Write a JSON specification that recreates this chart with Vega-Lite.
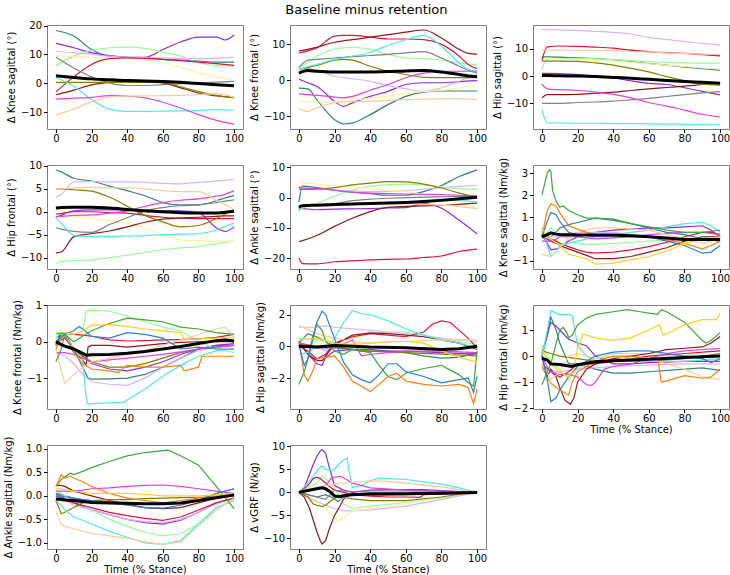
{
"$schema":"https://vega.github.io/schema/vega-lite/v6.json",
"padding":{"left":2,"top":4,"right":0,"bottom":0},
"title":{"text":"Baseline minus retention","fontSize":13,"fontWeight":"normal","font":"DejaVu Sans","color":"#000","offset":3,"anchor":"middle"},
"bounds":"flush",
"columns":3,
"spacing":{"row":36,"column":47},
"data":{"values":[
{"p":"a","t":0,"A":18.3,"B":13.8,"C":6.1,"D":11.0,"E":9.5,"F":-3.0,"G":9.0,"H":-4.0,"I":0.3,"J":2.0,"K":-5.5,"L":-11.0,"Z":2.6},
{"p":"a","t":10,"A":16.4,"B":12.3,"C":9.4,"D":10.6,"E":9.3,"F":2.2,"G":5.3,"H":-2.4,"I":0.3,"J":-1.0,"K":-5.2,"L":-9.0,"Z":2.0},
{"p":"a","t":20,"A":11.7,"B":10.6,"C":11.4,"D":10.0,"E":9.0,"F":6.5,"G":2.2,"H":-0.6,"I":0.3,"J":-5.7,"K":-4.9,"L":-6.4,"Z":1.5},
{"p":"a","t":30,"A":9.4,"B":9.6,"C":12.3,"D":9.4,"E":8.9,"F":8.5,"G":0.1,"H":0.3,"I":0.3,"J":-9.0,"K":-4.3,"L":-4.8,"Z":1.2},
{"p":"a","t":40,"A":9.0,"B":9.0,"C":12.5,"D":9.0,"E":8.8,"F":8.8,"G":-0.8,"H":0.6,"I":0.3,"J":-9.8,"K":-4.5,"L":-4.5,"Z":0.9},
{"p":"a","t":50,"A":8.8,"B":9.0,"C":12.1,"D":8.9,"E":8.3,"F":8.6,"G":-0.8,"H":0.5,"I":0.3,"J":-9.8,"K":-5.1,"L":-4.4,"Z":0.8},
{"p":"a","t":60,"A":8.3,"B":11.7,"C":10.8,"D":8.8,"E":7.1,"F":8.3,"G":-0.5,"H":0.1,"I":0.2,"J":-9.7,"K":-6.6,"L":-4.3,"Z":0.6},
{"p":"a","t":70,"A":8.0,"B":14.3,"C":9.4,"D":8.6,"E":5.5,"F":7.8,"G":-0.2,"H":-1.6,"I":-1.3,"J":-9.6,"K":-8.6,"L":-4.2,"Z":0.3},
{"p":"a","t":80,"A":7.7,"B":16.0,"C":7.1,"D":8.5,"E":3.6,"F":7.3,"G":0.1,"H":-3.4,"I":-2.9,"J":-9.5,"K":-10.9,"L":-4.0,"Z":-0.1},
{"p":"a","t":90,"A":7.3,"B":16.0,"C":6.1,"D":8.7,"E":2.2,"F":6.8,"G":0.4,"H":-4.4,"I":-4.2,"J":-9.2,"K":-12.9,"L":-3.6,"Z":-0.5},
{"p":"a","t":95,"B":15.0},
{"p":"a","t":100,"A":7.3,"B":16.7,"C":5.9,"D":9.0,"E":1.0,"F":6.2,"G":0.6,"H":-4.9,"I":-5.1,"J":-9.4,"K":-14.2,"L":-4.9,"Z":-0.9},
{"p":"b","t":0,"H":8.2,"F":7.6,"J":3.0,"C":3.5,"G":3.5,"I":3.0,"D":3.0,"K":-3.8,"B":0.3,"A":-2.2,"E":-6.0,"L":-8.0,"Z":2.0},
{"p":"b","t":5,"H":8.6,"F":8.2,"J":3.8,"C":5.0,"G":5.6,"I":3.5,"D":3.3,"K":-4.0,"B":-0.7,"A":-2.4,"E":-6.0,"L":-8.7,"Z":2.7},
{"p":"b","t":10,"H":9.2,"F":9.0,"J":4.4,"C":6.7,"G":5.8,"I":4.1,"D":2.8,"K":-4.2,"B":-1.7,"A":-5.4,"E":-6.0,"L":-7.7,"Z":2.5},
{"p":"b","t":20,"H":10.6,"F":12.3,"J":5.8,"C":8.7,"G":6.2,"I":5.6,"D":1.1,"K":-4.7,"B":-5.9,"A":-11.0,"E":-6.0,"L":-6.3,"Z":2.3},
{"p":"b","t":25,"H":11.0,"F":12.5,"J":6.2,"C":9.0,"G":6.4,"I":5.8,"D":0.7,"K":-4.9,"B":-7.3,"A":-12.2,"E":-5.8,"L":-6.1,"Z":2.3},
{"p":"b","t":30,"H":11.3,"F":12.5,"J":6.7,"C":9.2,"G":6.6,"I":5.6,"D":0.4,"K":-4.5,"B":-6.3,"A":-11.9,"E":-5.6,"L":-6.0,"Z":2.3},
{"p":"b","t":40,"H":12.0,"F":12.0,"J":7.8,"C":8.6,"G":6.9,"I":3.9,"D":-0.3,"K":-2.8,"B":-4.5,"A":-9.6,"E":-5.0,"L":-5.9,"Z":2.3},
{"p":"b","t":50,"H":12.7,"F":11.5,"J":9.7,"C":7.2,"G":7.2,"I":2.5,"D":-1.5,"K":-1.2,"B":-3.1,"A":-6.8,"E":-4.4,"L":-5.6,"Z":2.4},
{"p":"b","t":60,"H":13.4,"F":11.5,"J":11.3,"C":6.2,"G":7.6,"I":1.6,"D":-2.4,"K":0.7,"B":-1.2,"A":-4.5,"E":-3.7,"L":-5.4,"Z":2.6},
{"p":"b","t":70,"H":14.0,"F":11.3,"J":12.5,"C":6.0,"G":8.0,"I":0.8,"D":-3.1,"K":2.0,"B":-0.7,"A":-3.3,"E":-3.2,"L":-5.3,"Z":2.7},
{"p":"b","t":80,"H":11.8,"F":10.0,"J":9.5,"C":5.6,"G":6.2,"I":0.7,"D":-2.1,"K":2.5,"B":-0.7,"A":-3.0,"E":-2.8,"L":-5.2,"Z":2.3},
{"p":"b","t":90,"H":8.6,"F":6.7,"J":4.8,"C":4.8,"G":3.9,"I":0.7,"D":-0.3,"K":2.5,"B":-0.4,"A":-3.0,"E":-2.2,"L":-5.2,"Z":1.6},
{"p":"b","t":95,"H":7.5,"F":4.4,"J":3.0,"C":4.5,"G":2.8,"I":0.7,"D":0.8,"K":2.5,"B":-0.2,"A":-3.0,"E":-1.8,"L":-5.3,"Z":1.2},
{"p":"b","t":100,"H":7.3,"F":3.2,"J":2.5,"C":4.4,"G":2.0,"I":0.7,"D":1.6,"K":2.5,"B":-0.1,"A":-3.0,"E":-1.5,"L":-5.4,"Z":1.0},
{"p":"c","t":0,"D":17.0,"F":5.7,"L":9.5,"A":7.0,"C":2.5,"I":5.5,"B":1.0,"H":-8.0,"G":-9.9,"K":-3.0,"J":-12.3,"E":6.5,"Z":0.2},
{"p":"c","t":3,"D":17.0,"F":10.7,"L":9.5,"A":7.0,"C":6.2,"I":5.5,"B":1.0,"H":-6.8,"G":-10.0,"K":-4.7,"J":-17.2,"E":6.5,"Z":0.2},
{"p":"c","t":10,"D":16.9,"F":11.0,"L":9.5,"A":6.9,"C":6.4,"I":5.5,"B":0.9,"H":-6.8,"G":-10.0,"K":-5.0,"J":-17.2,"E":6.3,"Z":0.1},
{"p":"c","t":20,"D":16.7,"F":10.9,"L":9.4,"A":6.7,"C":6.5,"I":5.4,"B":0.5,"H":-6.7,"G":-9.7,"K":-5.2,"J":-17.3,"E":6.0,"Z":0.0},
{"p":"c","t":30,"D":16.4,"F":10.6,"L":9.4,"A":6.4,"C":6.3,"I":4.8,"B":0.0,"H":-6.3,"G":-9.5,"K":-5.9,"J":-17.3,"E":5.8,"Z":-0.2},
{"p":"c","t":40,"D":16.0,"F":10.2,"L":9.3,"A":6.0,"C":6.0,"I":4.0,"B":-0.6,"H":-5.9,"G":-9.2,"K":-6.7,"J":-17.4,"E":5.5,"Z":-0.5},
{"p":"c","t":50,"D":15.4,"F":9.5,"L":9.0,"A":5.3,"C":5.6,"I":2.8,"B":-1.8,"H":-5.3,"G":-8.7,"K":-8.0,"J":-17.4,"E":5.0,"Z":-0.8},
{"p":"c","t":60,"D":14.2,"F":8.9,"L":8.8,"A":4.6,"C":5.3,"I":1.5,"B":-2.7,"H":-4.7,"G":-8.2,"K":-9.7,"J":-17.5,"E":4.5,"Z":-1.2},
{"p":"c","t":70,"D":13.4,"F":8.6,"L":8.5,"A":4.0,"C":5.0,"I":-0.2,"B":-3.1,"H":-4.2,"G":-7.5,"K":-11.0,"J":-17.6,"E":4.0,"Z":-1.6},
{"p":"c","t":80,"D":12.6,"F":8.3,"L":8.2,"A":3.3,"C":4.8,"I":-1.7,"B":-4.3,"H":-3.7,"G":-6.8,"K":-12.5,"J":-17.7,"E":3.5,"Z":-2.0},
{"p":"c","t":90,"D":12.0,"F":7.8,"L":8.0,"A":2.7,"C":4.7,"I":-3.0,"B":-5.6,"H":-3.1,"G":-6.2,"K":-14.0,"J":-17.8,"E":3.0,"Z":-2.3},
{"p":"c","t":100,"D":11.4,"F":7.4,"L":7.9,"A":2.2,"C":4.7,"I":-3.3,"B":-6.9,"H":-2.6,"G":-5.7,"K":-15.0,"J":-17.9,"E":2.5,"Z":-2.6},
{"p":"d","t":0,"A":9.1,"D":3.2,"L":5.0,"I":5.0,"K":-1.0,"G":-3.5,"B":-1.2,"F":-0.5,"H":-9.0,"J":-1.5,"E":0.7,"C":-11.3,"Z":0.8},
{"p":"d","t":3,"A":8.7,"D":3.8,"L":5.0,"I":5.0,"K":-1.0,"G":-3.8,"B":-0.8,"F":-0.4,"H":-8.8,"J":-2.5,"E":0.3,"C":-10.9,"Z":0.9},
{"p":"d","t":10,"A":7.3,"D":6.5,"L":5.2,"I":4.8,"K":-0.8,"G":-4.3,"B":0.2,"F":0.0,"H":-5.5,"J":-5.2,"E":-1.0,"C":-10.7,"Z":1.0},
{"p":"d","t":20,"A":6.7,"D":6.6,"L":5.3,"I":4.5,"K":-0.7,"G":-4.5,"B":0.4,"F":0.0,"H":-4.8,"J":-5.4,"E":-1.3,"C":-10.5,"Z":1.0},
{"p":"d","t":30,"A":5.6,"D":6.5,"L":5.2,"I":3.2,"K":-0.3,"G":-2.8,"B":0.4,"F":-0.2,"H":-4.2,"J":-5.4,"E":-2.0,"C":-10.0,"Z":0.8},
{"p":"d","t":40,"A":4.6,"D":6.5,"L":5.2,"I":1.2,"K":0.2,"G":-1.3,"B":0.4,"F":-0.3,"H":-3.3,"J":-5.3,"E":-2.5,"C":-9.5,"Z":0.5},
{"p":"d","t":50,"A":3.5,"D":6.4,"L":5.0,"I":-0.8,"K":1.2,"G":0.2,"B":0.3,"F":-0.8,"H":-2.3,"J":-5.2,"E":-3.5,"C":-8.9,"Z":0.2},
{"p":"d","t":60,"A":2.0,"D":6.2,"L":4.6,"I":-2.2,"K":2.0,"G":0.9,"B":0.2,"F":-1.2,"H":-1.6,"J":-5.0,"E":-5.0,"C":-8.3,"Z":0.0},
{"p":"d","t":70,"A":1.5,"D":6.1,"L":4.4,"I":-3.3,"K":2.5,"G":1.3,"B":0.2,"F":-1.4,"H":-1.4,"J":-4.9,"E":-6.2,"C":-7.9,"Z":-0.2},
{"p":"d","t":80,"A":1.5,"D":6.4,"L":4.4,"I":-3.0,"K":2.8,"G":1.5,"B":-0.2,"F":-1.5,"H":-1.2,"J":-4.8,"E":-6.3,"C":-7.6,"Z":-0.3},
{"p":"d","t":90,"A":2.4,"D":6.7,"L":2.5,"I":-1.5,"K":3.4,"G":2.0,"B":-3.5,"F":-1.5,"H":-1.0,"J":-4.0,"E":-6.4,"C":-7.0,"Z":-0.3},
{"p":"d","t":95,"A":3.0,"D":6.9,"L":1.5,"I":-0.5,"K":3.8,"G":2.3,"B":-4.3,"F":-1.5,"H":-0.9,"J":-3.2,"E":-6.4,"C":-6.7,"Z":-0.1},
{"p":"d","t":100,"A":3.5,"D":7.0,"L":0.5,"I":0.4,"K":4.6,"G":2.6,"B":-3.3,"F":-1.5,"H":-0.9,"J":-2.5,"E":-6.4,"C":-6.4,"Z":0.1},
{"p":"e","t":0,"A":-1.5,"I":3.0,"E":5.0,"D":3.5,"K":3.5,"C":-4.0,"G":-3.0,"J":-4.5,"L":-2.5,"B":-3.5,"H":-14.5,"F":-20.0,"Z":-3.2},
{"p":"e","t":2,"A":3.8,"I":2.7,"E":4.9,"D":3.3,"K":3.2,"C":-3.5,"G":-2.6,"J":-2.5,"L":-2.4,"B":-3.6,"H":-14.2,"F":-21.8,"Z":-2.7},
{"p":"e","t":10,"A":3.3,"I":2.8,"E":4.5,"D":3.0,"K":3.0,"C":-2.0,"G":-2.4,"J":-2.4,"L":-2.3,"B":-4.0,"H":-12.5,"F":-21.9,"Z":-2.5},
{"p":"e","t":20,"A":2.5,"I":3.3,"E":4.0,"D":2.5,"K":2.5,"C":0.5,"G":-2.0,"J":-2.2,"L":-2.2,"B":-3.8,"H":-9.5,"F":-21.2,"Z":-2.3},
{"p":"e","t":30,"A":1.8,"I":4.2,"E":3.5,"D":2.2,"K":1.8,"C":2.5,"G":-1.0,"J":-2.0,"L":-2.1,"B":-3.7,"H":-6.8,"F":-20.9,"Z":-2.1},
{"p":"e","t":40,"A":1.3,"I":4.8,"E":3.0,"D":2.0,"K":1.5,"C":3.8,"G":-0.5,"J":-1.8,"L":-2.0,"B":-3.6,"H":-4.6,"F":-20.6,"Z":-1.9},
{"p":"e","t":50,"A":0.8,"I":5.3,"E":2.5,"D":2.1,"K":1.3,"C":4.3,"G":-0.2,"J":-1.6,"L":-2.0,"B":-3.4,"H":-3.2,"F":-20.4,"Z":-1.8},
{"p":"e","t":60,"A":0.8,"I":5.2,"E":2.0,"D":2.3,"K":1.2,"C":4.5,"G":0.0,"J":-1.5,"L":-2.0,"B":-3.3,"H":-2.9,"F":-20.3,"Z":-1.6},
{"p":"e","t":70,"A":2.0,"I":4.5,"E":1.0,"D":2.8,"K":1.1,"C":4.2,"G":0.2,"J":-1.2,"L":-2.2,"B":-2.0,"H":-2.7,"F":-19.8,"Z":-1.3},
{"p":"e","t":80,"A":4.0,"I":3.2,"E":0.0,"D":3.3,"K":1.0,"C":3.5,"G":0.3,"J":-0.5,"L":-2.5,"B":-3.5,"H":-2.6,"F":-19.3,"Z":-0.9},
{"p":"e","t":90,"A":7.0,"I":1.5,"E":-1.5,"D":3.7,"K":0.8,"C":3.0,"G":0.4,"J":-0.8,"L":-3.0,"B":-7.5,"H":-2.2,"F":-17.8,"Z":-0.4},
{"p":"e","t":100,"A":9.2,"I":0.2,"E":-3.5,"D":4.1,"K":0.5,"C":2.8,"G":0.5,"J":-1.5,"L":-3.6,"B":-12.0,"H":-1.8,"F":-17.0,"Z":0.1},
{"p":"f","t":0,"M":2.0,"N":0.1,"O":0.1,"P":0.5,"H":0.1,"F":0.2,"A":0.1,"J":0.5,"B":0.2,"L":-0.7,"C":0.0,"K":-0.1,"D":0.2,"Z":0.1},
{"p":"f","t":3,"M":3.0,"N":1.3,"O":0.8,"P":0.1,"H":0.0,"F":0.1,"A":0.1,"J":-0.3,"B":-0.2,"L":-0.75,"C":0.3,"K":-0.1,"D":0.15,"Z":0.2},
{"p":"f","t":4,"M":3.15},
{"p":"f","t":5,"M":3.1,"N":1.6,"O":1.2,"P":0.0,"H":-0.1,"F":0.0,"A":0.1,"J":-0.8,"B":-0.5,"L":-0.8,"C":0.5,"K":-0.1,"D":0.1,"Z":0.28},
{"p":"f","t":6,"M":2.2},
{"p":"f","t":8,"M":1.7,"N":1.5,"O":1.1,"P":-0.2,"H":-0.2,"F":-0.1,"A":0.3,"J":-0.6,"B":-0.45,"L":-0.6,"C":0.3,"K":0.0,"D":0.1,"Z":0.22},
{"p":"f","t":10,"M":1.45,"N":1.2,"O":0.8,"P":-0.3,"H":-0.3,"F":-0.2,"A":0.5,"J":-0.3,"B":-0.4,"L":-0.4,"C":0.2,"K":0.1,"D":0.1,"Z":0.2},
{"p":"f","t":12,"M":1.5},
{"p":"f","t":15,"M":1.3,"N":0.6,"O":0.3,"P":-0.7,"H":-0.45,"F":-0.35,"A":0.65,"J":-0.2,"B":-0.1,"L":0.0,"C":0.0,"K":0.1,"D":0.2,"Z":0.19},
{"p":"f","t":20,"M":1.1,"N":0.45,"O":0.2,"P":-0.8,"H":-0.6,"F":-0.5,"A":0.75,"J":-0.1,"B":0.1,"L":0.3,"C":-0.2,"K":0.1,"D":0.3,"Z":0.18},
{"p":"f","t":25,"M":0.95,"N":0.3,"O":0.15,"P":-0.9,"H":-0.75,"F":-0.6,"A":0.85,"J":0.0,"B":0.2,"L":0.4,"C":-0.25,"K":0.05,"D":0.3,"Z":0.18},
{"p":"f","t":30,"M":0.95,"N":0.2,"O":0.1,"P":-1.15,"H":-0.9,"F":-0.65,"A":0.95,"J":0.1,"B":0.3,"L":0.5,"C":-0.25,"K":0.0,"D":0.3,"Z":0.18},
{"p":"f","t":40,"M":0.85,"N":0.2,"O":0.1,"P":-1.1,"H":-0.9,"F":-0.6,"A":0.9,"J":0.2,"B":0.4,"L":0.5,"C":-0.2,"K":0.05,"D":0.3,"Z":0.18},
{"p":"f","t":50,"M":0.7,"N":0.15,"O":0.1,"P":-0.95,"H":-0.8,"F":-0.5,"A":0.7,"J":0.3,"B":0.45,"L":0.45,"C":-0.15,"K":0.1,"D":0.2,"Z":0.14},
{"p":"f","t":60,"M":0.55,"N":0.1,"O":0.1,"P":-0.8,"H":-0.6,"F":-0.35,"A":0.5,"J":0.4,"B":0.5,"L":0.4,"C":-0.1,"K":0.2,"D":0.1,"Z":0.1},
{"p":"f","t":70,"M":0.4,"N":-0.05,"O":-0.1,"P":-0.55,"H":-0.4,"F":-0.15,"A":0.3,"J":0.55,"B":0.5,"L":0.2,"C":-0.05,"K":0.25,"D":0.0,"Z":0.04},
{"p":"f","t":80,"M":0.3,"N":-0.2,"O":-0.3,"P":-0.2,"H":-0.1,"F":0.1,"A":0.2,"J":0.7,"B":0.55,"L":0.0,"C":0.0,"K":0.3,"D":-0.1,"Z":-0.02},
{"p":"f","t":90,"M":0.3,"N":-0.45,"O":-0.65,"P":0.0,"H":0.1,"F":0.3,"A":0.0,"J":0.75,"B":0.6,"L":-0.2,"C":0.05,"K":0.3,"D":-0.05,"Z":-0.02},
{"p":"f","t":95,"M":0.35,"N":-0.3,"O":-0.6,"P":0.05,"H":0.1,"F":0.3,"A":-0.05,"J":0.6,"B":0.4,"L":-0.1,"C":0.1,"K":0.25,"D":0.0,"Z":-0.02},
{"p":"f","t":100,"M":0.4,"N":-0.1,"O":-0.3,"P":0.1,"H":0.1,"F":0.2,"A":-0.1,"J":0.3,"B":0.1,"L":0.1,"C":0.1,"K":0.2,"D":0.0,"Z":-0.02},
{"p":"g","t":0,"C":0.1,"M":-0.55,"P":0.25,"O":0.0,"F":0.2,"H":-0.1,"L":-0.2,"K":-0.3,"N":-0.2,"I":-0.1,"B":0.0,"A":0.1,"D":-0.3,"J":0.2,"Z":0.0},
{"p":"g","t":3,"C":0.15,"M":-0.2,"P":0.25,"O":0.15,"F":0.25,"H":0.25,"L":-0.8,"K":-0.3,"N":0.1,"I":0.1,"B":0.05,"A":0.2,"D":-0.35,"J":0.2,"Z":-0.08},
{"p":"g","t":5,"C":0.2,"M":0.2,"P":0.25,"O":0.2,"F":0.25,"H":0.2,"L":-1.15,"K":-0.3,"N":0.2,"I":0.2,"B":0.1,"A":0.25,"D":-0.4,"J":0.2,"Z":-0.12},
{"p":"g","t":10,"C":0.2,"M":0.0,"P":0.2,"O":0.3,"F":0.2,"H":-0.3,"L":-0.9,"K":-0.35,"N":-0.3,"I":-0.2,"B":-0.2,"A":-0.2,"D":-0.6,"J":-0.2,"Z":-0.2},
{"p":"g","t":13,"O":0.42},
{"p":"g","t":15,"C":0.3,"M":0.15,"P":0.3,"O":0.35,"F":0.18,"H":-0.5,"L":-0.7,"K":-0.45,"N":-0.6,"I":-0.4,"B":-0.4,"A":-0.7,"D":-0.9,"J":-0.5,"Z":-0.32},
{"p":"g","t":17,"C":0.85,"H":-0.65,"J":-1.55,"Z":-0.37},
{"p":"g","t":18,"H":-0.15,"A":-1.0,"J":-1.72},
{"p":"g","t":20,"C":0.87,"M":0.3,"P":0.45,"O":0.15,"F":0.15,"H":-0.1,"L":-0.55,"K":-0.55,"N":-0.75,"I":-0.55,"B":-0.6,"A":-1.03,"D":-1.1,"J":-1.7,"Z":-0.36},
{"p":"g","t":30,"C":0.84,"M":0.5,"P":0.47,"O":0.1,"F":0.05,"H":-0.1,"L":-0.45,"K":-0.5,"N":-0.8,"I":-0.7,"B":-0.75,"A":-1.02,"D":-1.17,"J":-1.68,"Z":-0.35},
{"p":"g","t":35,"N":-0.85},
{"p":"g","t":38,"J":-1.67},
{"p":"g","t":40,"C":0.7,"M":0.65,"P":0.42,"O":0.25,"F":0.02,"H":-0.15,"L":-0.35,"K":-0.45,"N":-0.65,"I":-0.7,"B":-0.8,"A":-1.0,"D":-1.2,"J":-1.6,"Z":-0.32},
{"p":"g","t":50,"C":0.55,"M":0.6,"P":0.35,"O":0.2,"F":0.03,"H":-0.1,"L":-0.25,"K":-0.4,"N":-0.7,"I":-0.6,"B":-0.7,"A":-0.9,"D":-1.0,"J":-1.3,"Z":-0.27},
{"p":"g","t":60,"C":0.4,"M":0.55,"P":0.3,"O":0.1,"F":0.05,"H":-0.05,"L":-0.1,"K":-0.35,"N":-0.7,"I":-0.45,"B":-0.55,"A":-0.7,"D":-0.7,"J":-0.95,"Z":-0.2},
{"p":"g","t":70,"C":0.3,"M":0.4,"P":0.25,"O":-0.2,"F":0.06,"H":-0.02,"L":0.05,"K":-0.28,"N":-0.65,"I":-0.3,"B":-0.35,"A":-0.45,"D":-0.45,"J":-0.65,"Z":-0.13},
{"p":"g","t":72,"P":0.05,"N":-0.8},
{"p":"g","t":80,"C":0.0,"M":0.35,"P":0.08,"O":-0.15,"F":0.08,"H":0.0,"L":0.2,"K":-0.2,"N":-0.7,"I":-0.2,"B":-0.2,"A":-0.2,"D":-0.25,"J":-0.4,"Z":-0.05},
{"p":"g","t":82,"N":-0.4},
{"p":"g","t":90,"C":-0.2,"M":0.25,"P":0.1,"O":-0.2,"F":0.12,"H":0.0,"L":0.35,"K":-0.15,"N":-0.4,"I":-0.15,"B":-0.1,"A":-0.1,"D":-0.15,"J":-0.25,"Z":0.03},
{"p":"g","t":95,"L":0.4,"Z":0.05},
{"p":"g","t":100,"C":-0.3,"M":0.2,"P":0.1,"O":-0.2,"F":0.2,"H":0.0,"L":0.1,"K":-0.1,"N":-0.4,"I":-0.1,"B":-0.05,"A":-0.1,"D":-0.1,"J":-0.2,"Z":0.02},
{"p":"h","t":0,"J":-0.5,"O":0.1,"M":-2.4,"N":0.3,"F":0.0,"H":0.3,"L":1.3,"D":1.2,"C":0.5,"P":0.4,"A":0.2,"K":0.2,"B":0.3,"I":0.2,"Z":0.0},
{"p":"h","t":3,"O":-1.2,"M":-1.6,"N":-1.8},
{"p":"h","t":5,"J":-0.4,"O":-0.8,"M":-0.8,"N":-2.2,"F":-0.3,"H":-0.5,"A":0.8,"B":-0.5},
{"p":"h","t":8,"O":0.5,"M":0.7,"N":-1.5},
{"p":"h","t":10,"J":0.0,"O":1.5,"M":1.4,"N":-0.8,"F":-0.8,"H":-0.9,"L":0.8,"D":1.2,"C":0.4,"P":0.5,"A":0.6,"K":-0.1,"B":-1.1,"I":0.0,"Z":-0.05},
{"p":"h","t":13,"O":2.2,"M":1.0,"H":-0.9,"B":-1.2},
{"p":"h","t":15,"J":-0.3,"O":2.0,"M":0.3,"N":-0.7,"F":-0.5,"H":-0.6,"D":1.3,"A":0.3,"B":-0.7},
{"p":"h","t":20,"J":0.5,"O":0.5,"M":-0.3,"N":-0.6,"F":0.2,"H":0.1,"L":0.5,"D":1.2,"C":0.2,"P":0.2,"A":0.0,"K":-0.1,"B":-0.3,"I":-0.1,"Z":0.05},
{"p":"h","t":25,"J":1.5,"O":-1.0,"M":-0.5,"N":-1.3},
{"p":"h","t":30,"J":2.25,"O":-1.8,"M":-0.2,"N":-2.2,"F":0.6,"H":0.7,"L":0.3,"D":1.1,"C":0.5,"P":0.1,"A":-0.2,"K":0.4,"B":-0.2,"Z":0.0},
{"p":"h","t":35,"J":2.05,"O":-2.1,"N":-2.5,"K":-0.6,"B":-0.3},
{"p":"h","t":40,"J":2.0,"O":-2.3,"M":-0.4,"N":-2.85,"F":0.8,"H":0.85,"L":0.2,"D":1.0,"C":0.8,"P":0.2,"A":-0.2,"K":-0.5,"B":-0.3,"I":-0.3,"Z":-0.05},
{"p":"h","t":45,"O":-1.8,"M":-1.2,"N":-2.4},
{"p":"h","t":50,"J":1.6,"O":-1.1,"M":-1.9,"N":-1.9,"F":0.7,"H":0.8,"D":0.9,"C":0.9,"P":0.3,"A":-0.3,"K":-0.4},
{"p":"h","t":55,"O":-1.1,"M":-2.1,"N":-1.7},
{"p":"h","t":60,"J":1.1,"O":-1.6,"M":-1.7,"N":-2.2,"F":0.6,"H":0.7,"L":0.3,"D":0.8,"C":0.9,"P":0.3,"A":-0.4,"K":-0.3,"B":-0.3,"I":-0.4,"Z":-0.1},
{"p":"h","t":70,"J":0.7,"O":-1.9,"M":-1.4,"N":-2.4,"F":0.9,"H":0.6,"D":0.6,"C":0.7,"P":0.2,"A":-0.6},
{"p":"h","t":75,"O":-2.1,"F":1.4},
{"p":"h","t":80,"J":0.4,"O":-2.3,"M":-1.2,"N":-2.5,"F":1.6,"H":0.4,"L":0.4,"D":0.5,"C":0.5,"P":-0.3,"A":-0.75,"K":-0.3,"B":-0.4,"I":-0.5,"Z":-0.2},
{"p":"h","t":85,"M":-1.5,"F":1.5},
{"p":"h","t":90,"J":0.2,"O":-2.1,"M":-1.8,"N":-2.4,"F":1.0,"H":0.2,"D":0.4,"C":0.3,"P":-0.7,"A":-0.7,"Z":-0.15},
{"p":"h","t":95,"O":-2.0,"M":-2.3,"N":-2.6,"F":0.5},
{"p":"h","t":98,"O":-2.9,"M":-2.5,"N":-3.6},
{"p":"h","t":100,"J":-0.1,"O":-1.9,"M":-0.3,"N":-2.7,"F":-0.1,"H":-0.2,"L":0.4,"D":0.3,"C":0.1,"P":-1.0,"A":-0.4,"K":-0.4,"B":-0.5,"I":-0.6,"Z":0.0},
{"p":"i","t":0,"M":-1.1,"P":0.2,"J":-0.1,"A":0.1,"B":0.0,"O":0.0,"H":0.0,"N":-0.4,"K":0.0,"L":-0.3,"C":0.4,"I":0.2,"F":-0.3,"D":-0.5,"Z":-0.08},
{"p":"i","t":3,"M":-0.6,"J":1.0,"A":0.8,"B":0.8,"O":-0.9,"H":-0.8,"N":-0.8,"K":-0.4,"Z":-0.15},
{"p":"i","t":5,"M":-0.3,"P":-0.3,"J":1.75,"A":1.5,"B":1.3,"O":-1.75,"H":-0.5,"N":-1.05,"K":-0.6,"L":-0.9,"C":-0.2,"I":0.1,"F":-0.6,"Z":-0.3},
{"p":"i","t":8,"M":0.5,"J":1.65,"A":1.0,"B":1.15,"O":-1.6,"H":-0.8},
{"p":"i","t":10,"M":1.0,"P":-0.6,"J":1.6,"A":0.5,"B":1.0,"O":-1.3,"H":-1.2,"N":-1.3,"K":-0.7,"L":-0.6,"C":-0.5,"I":0.0,"F":-0.8,"D":-0.6,"Z":-0.32},
{"p":"i","t":12,"M":1.1},
{"p":"i","t":13,"H":-1.7},
{"p":"i","t":14,"M":0.9},
{"p":"i","t":15,"M":0.7,"P":-0.8,"J":1.6,"A":-0.3,"B":0.65,"O":-0.8,"N":-1.5,"K":-0.7,"L":0.0,"C":-0.9,"F":-0.6,"Z":-0.38},
{"p":"i","t":16,"H":-1.85},
{"p":"i","t":17,"M":0.8,"J":1.55,"N":-1.0,"Z":-0.4},
{"p":"i","t":18,"P":-0.5,"H":-1.6},
{"p":"i","t":20,"M":1.2,"P":0.3,"J":0.4,"A":-0.3,"B":0.5,"O":-0.4,"H":-1.0,"N":-0.6,"K":-0.8,"L":0.1,"C":-0.5,"I":-0.1,"F":-0.3,"D":-0.5,"Z":-0.33},
{"p":"i","t":23,"P":0.85},
{"p":"i","t":25,"M":1.45,"J":0.0,"B":0.4,"H":-0.5,"K":-1.1},
{"p":"i","t":28,"K":-1.12},
{"p":"i","t":30,"M":1.6,"P":0.7,"J":-0.2,"A":-0.5,"B":0.0,"O":0.0,"H":-0.3,"N":-0.2,"K":-1.0,"L":-0.1,"C":-0.1,"I":-0.2,"F":-0.3,"Z":-0.22},
{"p":"i","t":35,"K":-0.5},
{"p":"i","t":40,"M":1.7,"P":0.6,"J":-0.2,"A":-0.65,"B":-0.3,"O":0.15,"H":-0.1,"N":0.0,"K":-0.4,"L":0.0,"C":0.1,"I":-0.2,"F":-0.2,"D":-0.4,"Z":-0.18},
{"p":"i","t":48,"M":1.78},
{"p":"i","t":50,"P":0.7,"A":-0.65,"B":-0.3,"O":0.2,"H":0.0,"N":0.0,"K":-0.3,"L":-0.1},
{"p":"i","t":55,"M":1.7},
{"p":"i","t":60,"M":1.65,"P":1.0,"J":-0.2,"A":-0.6,"B":-0.25,"O":0.2,"H":0.1,"N":-0.1,"K":-0.1,"L":-0.1,"C":0.1,"I":-0.2,"F":0.0,"D":-0.35,"Z":-0.12},
{"p":"i","t":65,"M":1.6,"O":0.15,"N":-0.1},
{"p":"i","t":66,"P":1.2},
{"p":"i","t":67,"M":1.78,"N":-1.0},
{"p":"i","t":68,"P":0.8},
{"p":"i","t":70,"M":1.7,"P":0.85,"H":0.25,"N":-0.95,"K":0.1,"L":-0.3},
{"p":"i","t":80,"M":1.3,"P":1.2,"J":-0.2,"A":-0.5,"B":-0.2,"O":0.0,"H":0.3,"N":-0.75,"K":0.2,"L":-0.5,"C":0.0,"I":-0.1,"F":0.1,"D":-0.3,"Z":-0.05},
{"p":"i","t":90,"M":0.6,"P":1.4,"A":-0.45,"O":-0.1,"H":0.35,"N":-0.85,"L":-0.8},
{"p":"i","t":92,"M":0.5},
{"p":"i","t":95,"M":0.6,"O":-0.25,"H":0.5,"N":-0.8},
{"p":"i","t":98,"P":1.4},
{"p":"i","t":100,"M":0.9,"P":1.65,"J":-0.1,"A":-0.55,"B":-0.2,"O":-0.1,"H":0.75,"N":-0.5,"K":0.3,"L":-0.9,"C":0.3,"I":0.1,"F":0.2,"D":-0.3,"Z":0.0},
{"p":"j","t":0,"M":0.2,"N":0.2,"K":0.1,"P":0.15,"H":0.22,"O":0.0,"A":0.05,"I":-0.1,"F":0.0,"B":0.05,"D":0.0,"C":0.1,"J":-0.1,"L":-0.35,"Z":-0.07},
{"p":"j","t":3,"M":0.35,"N":0.45,"K":0.1,"P":0.15,"H":0.22,"O":0.0,"A":0.03,"I":-0.38,"F":-0.05,"B":-0.02,"D":-0.06,"C":0.05,"J":-0.2,"L":-0.6,"Z":-0.08},
{"p":"j","t":5,"M":0.4,"N":0.38,"K":0.1,"P":0.13,"H":0.2,"O":-0.02,"A":0.0,"I":-0.35,"F":-0.08,"B":-0.06,"D":-0.1,"C":0.0,"J":-0.3,"L":-0.65,"Z":-0.09},
{"p":"j","t":8,"M":0.48,"N":0.42},
{"p":"j","t":10,"M":0.45,"N":0.38,"K":0.1,"P":0.1,"H":0.1,"O":-0.05,"A":-0.05,"I":-0.25,"F":-0.15,"B":-0.15,"D":-0.2,"C":-0.1,"J":-0.45,"L":-0.7,"Z":-0.1},
{"p":"j","t":15,"M":0.52,"N":0.3,"K":0.12,"P":0.08,"H":0.05,"O":-0.08,"A":-0.08,"I":-0.15,"F":-0.2,"B":-0.22,"D":-0.25,"C":-0.2,"J":-0.52,"L":-0.75,"Z":-0.12},
{"p":"j","t":20,"M":0.6,"N":0.2,"K":0.15,"P":0.05,"H":0.0,"O":-0.1,"A":-0.1,"I":-0.1,"F":-0.25,"B":-0.3,"D":-0.3,"C":-0.3,"J":-0.6,"L":-0.8,"Z":-0.14},
{"p":"j","t":30,"M":0.73,"N":0.05,"K":0.17,"P":0.05,"H":-0.1,"O":-0.15,"A":-0.13,"I":-0.08,"F":-0.35,"B":-0.4,"D":-0.4,"C":-0.5,"J":-0.75,"L":-0.85,"Z":-0.15},
{"p":"j","t":40,"M":0.85,"N":-0.05,"K":0.2,"P":0.05,"H":-0.18,"O":-0.2,"A":-0.15,"I":-0.08,"F":-0.42,"B":-0.5,"D":-0.5,"C":-0.65,"J":-0.88,"L":-0.9,"Z":-0.16},
{"p":"j","t":50,"M":0.92,"N":-0.1,"K":0.22,"P":0.03,"H":-0.25,"O":-0.25,"A":-0.17,"I":-0.06,"F":-0.48,"B":-0.57,"D":-0.55,"C":-0.78,"J":-1.0,"L":-0.98,"Z":-0.17},
{"p":"j","t":60,"M":0.96,"N":-0.15,"K":0.23,"P":0.0,"H":-0.27,"O":-0.26,"A":-0.18,"I":-0.05,"F":-0.52,"B":-0.6,"D":-0.57,"C":-0.85,"J":-1.03,"L":-1.03,"Z":-0.17},
{"p":"j","t":63,"M":0.97},
{"p":"j","t":70,"M":0.85,"N":-0.1,"K":0.2,"P":0.0,"H":-0.25,"O":-0.2,"A":-0.15,"I":-0.04,"F":-0.45,"B":-0.52,"D":-0.5,"C":-0.8,"J":-0.95,"L":-0.98,"Z":-0.15},
{"p":"j","t":80,"M":0.65,"N":-0.05,"K":0.15,"P":0.0,"H":-0.15,"O":-0.1,"A":-0.1,"I":-0.03,"F":-0.3,"B":-0.35,"D":-0.35,"C":-0.6,"J":-0.6,"L":-0.65,"Z":-0.1},
{"p":"j","t":90,"M":0.2,"N":0.0,"K":0.1,"P":0.02,"H":-0.05,"O":0.05,"A":0.05,"I":-0.02,"F":-0.15,"B":-0.15,"D":-0.15,"C":-0.3,"J":-0.25,"L":-0.3,"Z":-0.04},
{"p":"j","t":100,"M":-0.27,"N":0.0,"K":0.05,"P":0.05,"H":0.0,"O":0.15,"A":0.15,"I":0.0,"F":-0.05,"B":-0.05,"D":-0.05,"C":-0.05,"J":-0.1,"L":-0.05,"Z":0.02},
{"p":"k","t":0,"B":0,"H":0,"J":0,"K":0,"F":0,"L":0,"C":0,"D":0,"E":0,"I":0,"A":0,"G":0,"Z":0},
{"p":"k","t":3,"B":1.0,"H":-1.0},
{"p":"k","t":5,"J":2.0,"K":0.5,"F":1.5,"D":-1.0,"I":-1.0,"A":-0.5,"Z":0.4},
{"p":"k","t":6,"B":4.0,"H":-3.5},
{"p":"k","t":8,"B":6.0,"H":-6.0,"J":3.5,"F":3.0,"I":-2.5},
{"p":"k","t":10,"B":7.8,"H":-8.5,"J":4.5,"K":1.0,"F":3.3,"L":1.0,"C":2.0,"D":-2.0,"E":-2.5,"I":-2.8,"A":-1.0,"G":-1.0,"Z":0.8},
{"p":"k","t":12,"B":9.0,"H":-10.5,"J":5.5,"F":3.0},
{"p":"k","t":13,"B":9.3,"H":-11.2,"J":5.8,"C":3.5,"I":-3.1,"Z":1.0},
{"p":"k","t":15,"B":8.5,"H":-10.5,"J":5.0,"K":1.5,"F":2.0,"L":1.5,"C":3.0,"D":-2.8,"E":-3.5,"I":-2.8,"A":-0.5,"G":-1.5,"Z":0.8},
{"p":"k","t":17,"B":5.5,"H":-8.0},
{"p":"k","t":18,"J":4.8,"K":3.0,"F":1.0,"I":-1.8,"A":-1.0,"Z":0.0},
{"p":"k","t":20,"B":1.5,"H":-5.0,"J":5.0,"K":3.3,"F":0.5,"L":1.8,"C":1.0,"D":-3.5,"E":-5.5,"I":-1.2,"A":-1.5,"G":0.5,"Z":-0.8},
{"p":"k","t":22,"J":6.0,"E":-6.3,"A":-2.0},
{"p":"k","t":23,"H":-3.0,"K":3.5,"Z":-0.9},
{"p":"k","t":25,"B":0.5,"H":-1.5,"J":7.0,"K":3.2,"C":-2.5,"D":-4.0,"E":-5.5,"I":-1.0,"A":-1.0,"G":0.3,"Z":-0.7},
{"p":"k","t":27,"J":7.5},
{"p":"k","t":28,"H":-0.5,"J":5.0,"K":2.5},
{"p":"k","t":30,"B":0.0,"H":-0.3,"J":1.0,"K":2.0,"F":-0.5,"L":2.2,"C":-3.5,"D":-4.0,"E":-4.0,"I":-1.4,"A":-0.5,"G":0.2,"Z":-0.5},
{"p":"k","t":35,"J":1.5},
{"p":"k","t":40,"B":0.5,"H":-0.6,"J":2.5,"K":1.0,"F":-0.8,"L":2.5,"C":-3.0,"D":-3.8,"E":-3.5,"I":-1.8,"A":-0.3,"G":0.3,"Z":-0.3},
{"p":"k","t":45,"J":3.1},
{"p":"k","t":50,"B":0.6,"J":3.0,"F":-1.0,"L":2.4},
{"p":"k","t":60,"B":0.6,"H":-0.5,"J":2.8,"K":0.5,"F":-1.0,"L":2.0,"C":-2.2,"D":-3.0,"E":-2.5,"I":-1.8,"A":-0.2,"G":0.3,"Z":-0.3},
{"p":"k","t":68,"F":-1.1},
{"p":"k","t":70,"B":0.6,"J":2.3,"F":-0.5,"L":1.6},
{"p":"k","t":80,"B":0.4,"H":-0.3,"J":1.8,"K":0.3,"F":-0.3,"L":1.2,"C":-1.2,"D":-1.5,"E":-1.0,"I":-1.0,"A":-0.1,"G":0.2,"Z":-0.2},
{"p":"k","t":90,"B":0.2,"J":1.0,"L":0.6,"I":-0.4},
{"p":"k","t":100,"B":0,"H":0,"J":0,"K":0,"F":0,"L":0,"C":0,"D":0,"E":0,"I":0,"A":0,"G":0,"Z":0}
]},
"concat":[
{"width":196,"height":104,"transform":[{"filter":"datum.p==='a'"},{"fold":["A","B","C","D","E","F","G","H","I","J","K","L","M","N","O","P","Z"],"as":["s","v"]},{"filter":"isValid(datum.v)"}],
 "encoding":{"x":{"field":"t","type":"quantitative","scale":{"domain":[-5,105],"nice":false,"zero":false},"axis":{"values":[0,20,40,60,80,100],"title":null}},
 "y":{"field":"v","type":"quantitative","scale":{"domain":[-15.9,20.2],"nice":false,"zero":false},"axis":{"values":[-10,0,10,20],"title":"Δ Knee sagittal (°)"}}},
 "layer":[
 {"transform":[{"filter":"datum.s!=='Z'"}],"mark":{"type":"line","strokeWidth":1.2,"interpolate":"monotone"},"encoding":{"color":{"field":"s","type":"nominal","legend":null,"scale":{"domain":["A","B","C","D","E","F","G","H","I","J","K","L","M","N","O","P"],"range":["#347f80","#8a2be2","#98fb98","#d9b3ff","#fff0a0","#dc143c","#808080","#8b1a1a","#808000","#4fe8e8","#e040e0","#fdcb9b","#3aa83a","#ff7f0e","#2f7fd0","#ffd020"]}}}},
 {"transform":[{"filter":"datum.s==='Z'"}],"mark":{"type":"line","strokeWidth":3,"color":"#000","interpolate":"monotone"},"encoding":{}}]},
{"width":196,"height":104,"transform":[{"filter":"datum.p==='b'"},{"fold":["A","B","C","D","E","F","G","H","I","J","K","L","M","N","O","P","Z"],"as":["s","v"]},{"filter":"isValid(datum.v)"}],
 "encoding":{"x":{"field":"t","type":"quantitative","scale":{"domain":[-5,105],"nice":false,"zero":false},"axis":{"values":[0,20,40,60,80,100],"title":null}},
 "y":{"field":"v","type":"quantitative","scale":{"domain":[-13.6,15.4],"nice":false,"zero":false},"axis":{"values":[-10,0,10],"title":"Δ Knee frontal (°)"}}},
 "layer":[
 {"transform":[{"filter":"datum.s!=='Z'"}],"mark":{"type":"line","strokeWidth":1.2,"interpolate":"monotone"},"encoding":{"color":{"field":"s","type":"nominal","legend":null}}},
 {"transform":[{"filter":"datum.s==='Z'"}],"mark":{"type":"line","strokeWidth":3,"color":"#000","interpolate":"monotone"},"encoding":{}}]},
{"width":196,"height":104,"transform":[{"filter":"datum.p==='c'"},{"fold":["A","B","C","D","E","F","G","H","I","J","K","L","M","N","O","P","Z"],"as":["s","v"]},{"filter":"isValid(datum.v)"}],
 "encoding":{"x":{"field":"t","type":"quantitative","scale":{"domain":[-5,105],"nice":false,"zero":false},"axis":{"values":[0,20,40,60,80,100],"title":null}},
 "y":{"field":"v","type":"quantitative","scale":{"domain":[-19.4,18.7],"nice":false,"zero":false},"axis":{"values":[-10,0,10],"title":"Δ Hip sagittal (°)"}}},
 "layer":[
 {"transform":[{"filter":"datum.s!=='Z'"}],"mark":{"type":"line","strokeWidth":1.2,"interpolate":"monotone"},"encoding":{"color":{"field":"s","type":"nominal","legend":null}}},
 {"transform":[{"filter":"datum.s==='Z'"}],"mark":{"type":"line","strokeWidth":3,"color":"#000","interpolate":"monotone"},"encoding":{}}]},
{"width":196,"height":104,"transform":[{"filter":"datum.p==='d'"},{"fold":["A","B","C","D","E","F","G","H","I","J","K","L","M","N","O","P","Z"],"as":["s","v"]},{"filter":"isValid(datum.v)"}],
 "encoding":{"x":{"field":"t","type":"quantitative","scale":{"domain":[-5,105],"nice":false,"zero":false},"axis":{"values":[0,20,40,60,80,100],"title":null}},
 "y":{"field":"v","type":"quantitative","scale":{"domain":[-12.5,10.2],"nice":false,"zero":false},"axis":{"values":[-10,-5,0,5,10],"title":"Δ Hip frontal (°)"}}},
 "layer":[
 {"transform":[{"filter":"datum.s!=='Z'"}],"mark":{"type":"line","strokeWidth":1.2,"interpolate":"monotone"},"encoding":{"color":{"field":"s","type":"nominal","legend":null}}},
 {"transform":[{"filter":"datum.s==='Z'"}],"mark":{"type":"line","strokeWidth":3,"color":"#000","interpolate":"monotone"},"encoding":{}}]},
{"width":196,"height":104,"transform":[{"filter":"datum.p==='e'"},{"fold":["A","B","C","D","E","F","G","H","I","J","K","L","M","N","O","P","Z"],"as":["s","v"]},{"filter":"isValid(datum.v)"}],
 "encoding":{"x":{"field":"t","type":"quantitative","scale":{"domain":[-5,105],"nice":false,"zero":false},"axis":{"values":[0,20,40,60,80,100],"title":null}},
 "y":{"field":"v","type":"quantitative","scale":{"domain":[-23.6,10.8],"nice":false,"zero":false},"axis":{"values":[-20,-10,0,10],"title":"Δ Ankle sagittal (°)"}}},
 "layer":[
 {"transform":[{"filter":"datum.s!=='Z'"}],"mark":{"type":"line","strokeWidth":1.2,"interpolate":"monotone"},"encoding":{"color":{"field":"s","type":"nominal","legend":null}}},
 {"transform":[{"filter":"datum.s==='Z'"}],"mark":{"type":"line","strokeWidth":3,"color":"#000","interpolate":"monotone"},"encoding":{}}]},
{"width":196,"height":104,"transform":[{"filter":"datum.p==='f'"},{"fold":["A","B","C","D","E","F","G","H","I","J","K","L","M","N","O","P","Z"],"as":["s","v"]},{"filter":"isValid(datum.v)"}],
 "encoding":{"x":{"field":"t","type":"quantitative","scale":{"domain":[-5,105],"nice":false,"zero":false},"axis":{"values":[0,20,40,60,80,100],"title":null}},
 "y":{"field":"v","type":"quantitative","scale":{"domain":[-1.37,3.37],"nice":false,"zero":false},"axis":{"values":[-1,0,1,2,3],"title":"Δ Knee sagittal (Nm/kg)"}}},
 "layer":[
 {"transform":[{"filter":"datum.s!=='Z'"}],"mark":{"type":"line","strokeWidth":1.2},"encoding":{"color":{"field":"s","type":"nominal","legend":null}}},
 {"transform":[{"filter":"datum.s==='Z'"}],"mark":{"type":"line","strokeWidth":3,"color":"#000"},"encoding":{}}]},
{"width":196,"height":104,"transform":[{"filter":"datum.p==='g'"},{"fold":["A","B","C","D","E","F","G","H","I","J","K","L","M","N","O","P","Z"],"as":["s","v"]},{"filter":"isValid(datum.v)"}],
 "encoding":{"x":{"field":"t","type":"quantitative","scale":{"domain":[-5,105],"nice":false,"zero":false},"axis":{"values":[0,20,40,60,80,100],"title":null}},
 "y":{"field":"v","type":"quantitative","scale":{"domain":[-1.85,1.01],"nice":false,"zero":false},"axis":{"values":[-1,0,1],"title":"Δ Knee frontal (Nm/kg)"}}},
 "layer":[
 {"transform":[{"filter":"datum.s!=='Z'"}],"mark":{"type":"line","strokeWidth":1.2},"encoding":{"color":{"field":"s","type":"nominal","legend":null}}},
 {"transform":[{"filter":"datum.s==='Z'"}],"mark":{"type":"line","strokeWidth":3,"color":"#000"},"encoding":{}}]},
{"width":196,"height":104,"transform":[{"filter":"datum.p==='h'"},{"fold":["A","B","C","D","E","F","G","H","I","J","K","L","M","N","O","P","Z"],"as":["s","v"]},{"filter":"isValid(datum.v)"}],
 "encoding":{"x":{"field":"t","type":"quantitative","scale":{"domain":[-5,105],"nice":false,"zero":false},"axis":{"values":[0,20,40,60,80,100],"title":null}},
 "y":{"field":"v","type":"quantitative","scale":{"domain":[-3.95,2.6],"nice":false,"zero":false},"axis":{"values":[-2,0,2],"title":"Δ Hip sagittal (Nm/kg)"}}},
 "layer":[
 {"transform":[{"filter":"datum.s!=='Z'"}],"mark":{"type":"line","strokeWidth":1.2},"encoding":{"color":{"field":"s","type":"nominal","legend":null}}},
 {"transform":[{"filter":"datum.s==='Z'"}],"mark":{"type":"line","strokeWidth":3,"color":"#000"},"encoding":{}}]},
{"width":196,"height":104,"transform":[{"filter":"datum.p==='i'"},{"fold":["A","B","C","D","E","F","G","H","I","J","K","L","M","N","O","P","Z"],"as":["s","v"]},{"filter":"isValid(datum.v)"}],
 "encoding":{"x":{"field":"t","type":"quantitative","scale":{"domain":[-5,105],"nice":false,"zero":false},"axis":{"values":[0,20,40,60,80,100],"title":"Time (% Stance)"}},
 "y":{"field":"v","type":"quantitative","scale":{"domain":[-2.03,1.96],"nice":false,"zero":false},"axis":{"values":[-2,-1,0,1],"title":"Δ Hip frontal (Nm/kg)"}}},
 "layer":[
 {"transform":[{"filter":"datum.s!=='Z'"}],"mark":{"type":"line","strokeWidth":1.2},"encoding":{"color":{"field":"s","type":"nominal","legend":null}}},
 {"transform":[{"filter":"datum.s==='Z'"}],"mark":{"type":"line","strokeWidth":3,"color":"#000"},"encoding":{}}]},
{"width":196,"height":104,"transform":[{"filter":"datum.p==='j'"},{"fold":["A","B","C","D","E","F","G","H","I","J","K","L","M","N","O","P","Z"],"as":["s","v"]},{"filter":"isValid(datum.v)"}],
 "encoding":{"x":{"field":"t","type":"quantitative","scale":{"domain":[-5,105],"nice":false,"zero":false},"axis":{"values":[0,20,40,60,80,100],"title":"Time (% Stance)"}},
 "y":{"field":"v","type":"quantitative","scale":{"domain":[-1.13,1.08],"nice":false,"zero":false},"axis":{"values":[-1,-0.5,0,0.5,1],"format":".1f","title":"Δ Ankle sagittal (Nm/kg)"}}},
 "layer":[
 {"transform":[{"filter":"datum.s!=='Z'"}],"mark":{"type":"line","strokeWidth":1.2},"encoding":{"color":{"field":"s","type":"nominal","legend":null}}},
 {"transform":[{"filter":"datum.s==='Z'"}],"mark":{"type":"line","strokeWidth":3,"color":"#000"},"encoding":{}}]},
{"width":196,"height":104,"transform":[{"filter":"datum.p==='k'"},{"fold":["A","B","C","D","E","F","G","H","I","J","K","L","M","N","O","P","Z"],"as":["s","v"]},{"filter":"isValid(datum.v)"}],
 "encoding":{"x":{"field":"t","type":"quantitative","scale":{"domain":[-5,105],"nice":false,"zero":false},"axis":{"values":[0,20,40,60,80,100],"title":"Time (% Stance)"}},
 "y":{"field":"v","type":"quantitative","scale":{"domain":[-12.3,10.3],"nice":false,"zero":false},"axis":{"values":[-10,-5,0,5,10],"title":"Δ vGRF (N/kg)"}}},
 "layer":[
 {"transform":[{"filter":"datum.s!=='Z'"}],"mark":{"type":"line","strokeWidth":1.2},"encoding":{"color":{"field":"s","type":"nominal","legend":null}}},
 {"transform":[{"filter":"datum.s==='Z'"}],"mark":{"type":"line","strokeWidth":3,"color":"#000"},"encoding":{}}]}
],
"config":{"font":"DejaVu Sans","view":{"stroke":"#808080","strokeWidth":1},
 "axis":{"labelFont":"DejaVu Sans","labelFontSize":10,"labelColor":"#000","titleFont":"DejaVu Sans","titleFontSize":10,"titleFontWeight":"normal","titleColor":"#000","tickColor":"#000","tickSize":3.5,"domain":false,"grid":false,"labelPadding":2,"titlePadding":4},
 "axisX":{"labelPadding":1,"titlePadding":1},
 "line":{"strokeCap":"butt"}}
}
